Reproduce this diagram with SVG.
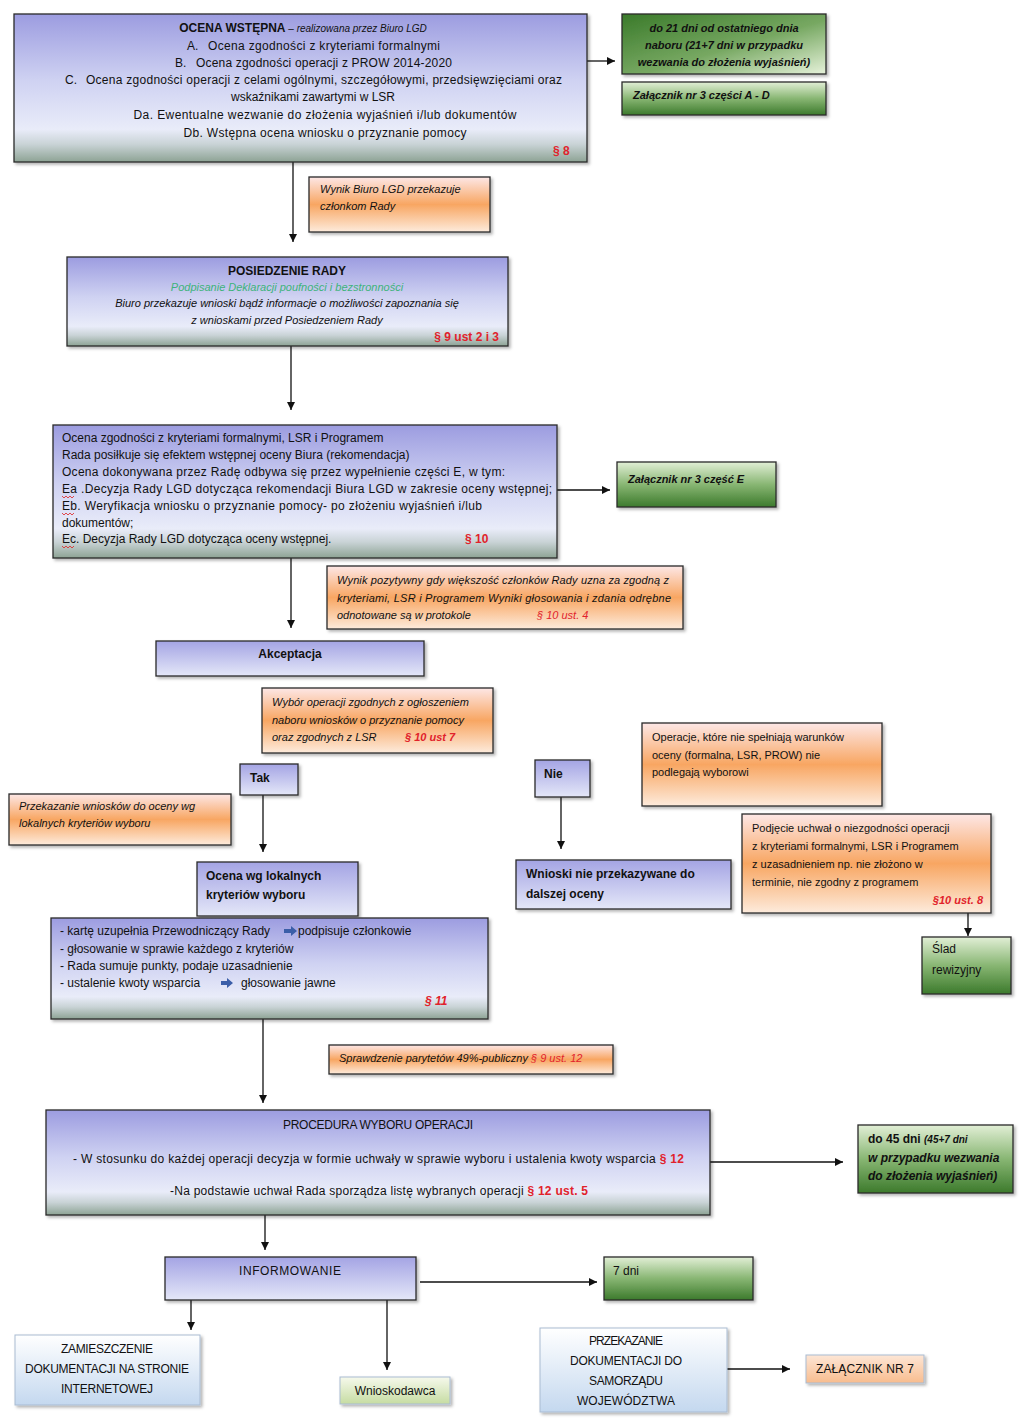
<svg xmlns="http://www.w3.org/2000/svg" width="1024" height="1427" viewBox="0 0 1024 1427">
<defs>
<linearGradient id="gBlue" x1="0" y1="0" x2="0" y2="1">
<stop offset="0" stop-color="#9c9ce0"/>
<stop offset="0.45" stop-color="#cfd2f2"/>
<stop offset="0.78" stop-color="#e9ecf9"/>
<stop offset="0.88" stop-color="#c9d3d6"/>
<stop offset="1" stop-color="#8da394"/>
</linearGradient>
<linearGradient id="gBlueS" x1="0" y1="0" x2="0" y2="1">
<stop offset="0" stop-color="#a4a4e4"/>
<stop offset="1" stop-color="#e4e7f8"/>
</linearGradient>
<linearGradient id="gOrange" x1="0" y1="0" x2="0" y2="1">
<stop offset="0" stop-color="#fde7e6"/>
<stop offset="0.5" stop-color="#f8a662"/>
<stop offset="1" stop-color="#fdebdc"/>
</linearGradient>
<linearGradient id="gGreenD" x1="0" y1="0" x2="1" y2="1">
<stop offset="0" stop-color="#3a7a2a"/>
<stop offset="0.55" stop-color="#77a862"/>
<stop offset="1" stop-color="#e6f2da"/>
</linearGradient>
<linearGradient id="gGreen" x1="0" y1="0" x2="0" y2="1">
<stop offset="0" stop-color="#e2efd6"/>
<stop offset="0.5" stop-color="#88b673"/>
<stop offset="1" stop-color="#3c7a2c"/>
</linearGradient>
<linearGradient id="gLBlue" x1="0" y1="0" x2="0" y2="1">
<stop offset="0" stop-color="#ffffff"/>
<stop offset="1" stop-color="#c4d8ef"/>
</linearGradient>
<linearGradient id="gLGreen" x1="0" y1="0" x2="0" y2="1">
<stop offset="0" stop-color="#f6f9ec"/>
<stop offset="1" stop-color="#c6dca2"/>
</linearGradient>
<linearGradient id="gLOrange" x1="0" y1="0" x2="0" y2="1">
<stop offset="0" stop-color="#fde6d6"/>
<stop offset="1" stop-color="#f8bc8e"/>
</linearGradient>
<filter id="sh" x="-10%" y="-10%" width="130%" height="140%">
<feDropShadow dx="2" dy="2" stdDeviation="1.5" flood-color="#000" flood-opacity="0.3"/>
</filter>
<marker id="arr" markerWidth="8" markerHeight="8" refX="8" refY="4" orient="auto" markerUnits="userSpaceOnUse">
<path d="M0,0 L8,4 L0,8 z" fill="#111"/>
</marker>
</defs>
<style>
.box{stroke:#2a2a2a;stroke-width:1.3;filter:url(#sh)}
.lbox{stroke:#a9bbd2;stroke-width:1;filter:url(#sh)}
.t{font-family:"Liberation Sans",Arial,sans-serif;font-size:12px;fill:#111}
.s{font-size:11px}
.b{font-weight:bold}
.i{font-style:italic}
.r{fill:#e1222b}
.c{text-anchor:middle}
.e{text-anchor:end}
.gr{fill:#3db37a}
.cn{stroke:#111;stroke-width:1.3;fill:none}
.sq{stroke:#e02020;stroke-width:0.8;fill:none}
.ar{fill:#3b5ea8}
</style>
<rect width="1024" height="1427" fill="#ffffff"/>

<g id="connectors">
<line class="cn" x1="587" y1="61" x2="615" y2="61" marker-end="url(#arr)"/>
<line class="cn" x1="293" y1="162" x2="293" y2="242" marker-end="url(#arr)"/>
<line class="cn" x1="291" y1="346" x2="291" y2="410" marker-end="url(#arr)"/>
<line class="cn" x1="557" y1="490" x2="610" y2="490" marker-end="url(#arr)"/>
<line class="cn" x1="291" y1="558" x2="291" y2="628" marker-end="url(#arr)"/>
<line class="cn" x1="263" y1="795" x2="263" y2="852" marker-end="url(#arr)"/>
<line class="cn" x1="561" y1="797" x2="561" y2="849" marker-end="url(#arr)"/>
<line class="cn" x1="968" y1="913" x2="968" y2="936" marker-end="url(#arr)"/>
<line class="cn" x1="263" y1="1019" x2="263" y2="1103" marker-end="url(#arr)"/>
<line class="cn" x1="710" y1="1162" x2="843" y2="1162" marker-end="url(#arr)"/>
<line class="cn" x1="265" y1="1215" x2="265" y2="1250" marker-end="url(#arr)"/>
<line class="cn" x1="420" y1="1282" x2="597" y2="1282" marker-end="url(#arr)"/>
<line class="cn" x1="191" y1="1300" x2="191" y2="1330" marker-end="url(#arr)"/>
<line class="cn" x1="387" y1="1300" x2="387" y2="1370" marker-end="url(#arr)"/>
<line class="cn" x1="727" y1="1369" x2="790" y2="1369" marker-end="url(#arr)"/>
</g>

<g id="ocena-wstepna">
<rect class="box" x="14" y="14" width="573" height="148" fill="url(#gBlue)"/>
<text class="t c" x="303" y="32"><tspan class="b">OCENA WSTĘPNA</tspan><tspan class="i" font-size="10"> – realizowana przez Biuro LGD</tspan></text>
<text class="t" x="187" y="50">A.</text><text class="t" x="208" y="50" textLength="232">Ocena zgodności z kryteriami formalnymi</text>
<text class="t" x="175" y="67">B.</text><text class="t" x="196" y="67" textLength="256">Ocena zgodności operacji z PROW 2014-2020</text>
<text class="t" x="65" y="84">C.</text><text class="t" x="86" y="84" textLength="476">Ocena zgodności operacji z celami ogólnymi, szczegółowymi, przedsięwzięciami oraz</text>
<text class="t c" x="313" y="101">wskaźnikami zawartymi w LSR</text>
<text class="t c" x="325" y="119" textLength="383">Da. Ewentualne wezwanie do złożenia wyjaśnień i/lub dokumentów</text>
<text class="t c" x="325" y="137" textLength="283">Db. Wstępna ocena wniosku o przyznanie pomocy</text>
<text class="t b r" x="553" y="155">§ 8</text>
</g>

<g id="termin-21">
<rect class="box" x="622" y="14" width="204" height="60" fill="url(#gGreenD)"/>
<text class="t s b i c" x="724" y="32">do 21 dni od ostatniego dnia</text>
<text class="t s b i c" x="724" y="49">naboru (21+7 dni w przypadku</text>
<text class="t s b i c" x="724" y="66">wezwania do złożenia wyjaśnień)</text>
</g>

<g id="zalacznik-3-ad">
<rect class="box" x="622" y="82" width="204" height="33" fill="url(#gGreen)"/>
<text class="t s b i" x="633" y="99">Załącznik nr 3 części A - D</text>
</g>

<g id="wynik-biuro">
<rect class="box" x="309" y="177" width="181" height="55" fill="url(#gOrange)"/>
<text class="t s i" x="320" y="193">Wynik Biuro LGD przekazuje</text>
<text class="t s i" x="320" y="210">członkom Rady</text>
</g>

<g id="posiedzenie-rady">
<rect class="box" x="67" y="257" width="441" height="89" fill="url(#gBlue)"/>
<text class="t b c" x="287" y="275">POSIEDZENIE RADY</text>
<text class="t s i c gr" x="287" y="291">Podpisanie Deklaracji poufności i bezstronności</text>
<text class="t s i c" x="287" y="307">Biuro przekazuje wnioski bądź informacje o możliwości zapoznania się</text>
<text class="t s i c" x="287" y="324">z wnioskami przed Posiedzeniem Rady</text>
<text class="t b r e" x="499" y="341">§ 9 ust 2 i 3</text>
</g>

<g id="ocena-rady">
<rect class="box" x="53" y="425" width="504" height="133" fill="url(#gBlue)"/>
<text class="t" x="62" y="442">Ocena zgodności z kryteriami  formalnymi, LSR i Programem</text>
<text class="t" x="62" y="459">Rada posiłkuje się efektem wstępnej oceny Biura (rekomendacja)</text>
<text class="t" x="62" y="476" textLength="443">Ocena dokonywana przez Radę odbywa się przez wypełnienie części  E, w tym:</text>
<text class="t" x="62" y="493" textLength="490">Ea .Decyzja Rady LGD dotycząca rekomendacji Biura LGD w zakresie oceny wstępnej;</text>
<text class="t" x="62" y="510" textLength="420">Eb. Weryfikacja wniosku o przyznanie pomocy- po złożeniu wyjaśnień i/lub</text>
<text class="t" x="62" y="527">dokumentów;</text>
<text class="t" x="62" y="543">Ec. Decyzja Rady LGD dotycząca oceny wstępnej.</text>
<text class="t b r" x="465" y="543">§  10</text>
<path class="sq" d="M62,496 l2,2 l2,-2 l2,2 l2,-2 l2,2 l2,-2"/>
<path class="sq" d="M62,513 l2,2 l2,-2 l2,2 l2,-2 l2,2 l2,-2"/>
<path class="sq" d="M62,546 l2,2 l2,-2 l2,2 l2,-2 l2,2 l2,-2"/>
</g>

<g id="zalacznik-3-e">
<rect class="box" x="617" y="462" width="159" height="45" fill="url(#gGreen)"/>
<text class="t s b i" x="628" y="483">Załącznik nr 3 część E</text>
</g>

<g id="wynik-pozytywny">
<rect class="box" x="327" y="566" width="356" height="63" fill="url(#gOrange)"/>
<text class="t s i" x="337" y="584" textLength="332">Wynik pozytywny gdy większość członków Rady uzna za zgodną z</text>
<text class="t s i" x="337" y="602" textLength="334">kryteriami, LSR i Programem Wyniki głosowania i zdania odrębne</text>
<text class="t s i" x="337" y="619">odnotowane są w protokole</text>
<text class="t s i r" x="537" y="619">§  10 ust. 4</text>
</g>

<g id="akceptacja">
<rect class="box" x="156" y="641" width="268" height="35" fill="url(#gBlueS)"/>
<text class="t b c" x="290" y="658">Akceptacja</text>
</g>

<g id="wybor-operacji">
<rect class="box" x="262" y="688" width="231" height="65" fill="url(#gOrange)"/>
<text class="t s i" x="272" y="706">Wybór operacji zgodnych z ogłoszeniem</text>
<text class="t s i" x="272" y="724">naboru wniosków o przyznanie pomocy</text>
<text class="t s i" x="272" y="741">oraz zgodnych z LSR</text>
<text class="t s b i r" x="405" y="741">§ 10 ust 7</text>
</g>

<g id="tak">
<rect class="box" x="240" y="764" width="58" height="31" fill="url(#gBlueS)"/>
<text class="t b" x="250" y="782">Tak</text>
</g>

<g id="przekazanie-wnioskow">
<rect class="box" x="9" y="794" width="222" height="51" fill="url(#gOrange)"/>
<text class="t s i" x="19" y="810">Przekazanie wniosków do oceny wg</text>
<text class="t s i" x="19" y="827">lokalnych kryteriów wyboru</text>
</g>

<g id="ocena-lokalne">
<rect class="box" x="197" y="862" width="161" height="54" fill="url(#gBlueS)"/>
<text class="t b" x="206" y="880">Ocena wg lokalnych</text>
<text class="t b" x="206" y="899">kryteriów wyboru</text>
</g>

<g id="karta-oceny">
<rect class="box" x="51" y="918" width="437" height="101" fill="url(#gBlue)"/>
<text class="t" x="60" y="935">- kartę uzupełnia Przewodniczący Rady</text>
<path class="ar" d="M284,929 h7 v-3 l6,5 l-6,5 v-3 h-7 z"/>
<text class="t" x="298" y="935">podpisuje członkowie</text>
<text class="t" x="60" y="953">- głosowanie w sprawie każdego z kryteriów</text>
<text class="t" x="60" y="970">- Rada sumuje punkty, podaje uzasadnienie</text>
<text class="t" x="60" y="987">- ustalenie kwoty wsparcia</text>
<path class="ar" d="M221,981 h6 v-3 l6,5 l-6,5 v-3 h-6 z"/>
<text class="t" x="241" y="987">głosowanie jawne</text>
<text class="t b i r" x="425" y="1005">§ 11</text>
</g>

<g id="nie">
<rect class="box" x="535" y="760" width="55" height="37" fill="url(#gBlueS)"/>
<text class="t b" x="544" y="778">Nie</text>
</g>

<g id="wnioski-nie-przekazywane">
<rect class="box" x="516" y="860" width="215" height="49" fill="url(#gBlueS)"/>
<text class="t b" x="526" y="878">Wnioski nie przekazywane do</text>
<text class="t b" x="526" y="898">dalszej oceny</text>
</g>

<g id="operacje-niespelniajace">
<rect class="box" x="642" y="723" width="240" height="83" fill="url(#gOrange)"/>
<text class="t s" x="652" y="741">Operacje,  które nie spełniają warunków</text>
<text class="t s" x="652" y="759">oceny (formalna, LSR, PROW) nie</text>
<text class="t s" x="652" y="776">podlegają wyborowi</text>
</g>

<g id="podjecie-uchwal">
<rect class="box" x="742" y="814" width="249" height="99" fill="url(#gOrange)"/>
<text class="t s" x="752" y="832">Podjęcie uchwał o niezgodności operacji</text>
<text class="t s" x="752" y="850">z kryteriami formalnymi, LSR i Programem</text>
<text class="t s" x="752" y="868">z uzasadnieniem np. nie złożono  w</text>
<text class="t s" x="752" y="886">terminie, nie zgodny z programem</text>
<text class="t s b i r e" x="983" y="904">§10 ust. 8</text>
</g>

<g id="slad-rewizyjny">
<rect class="box" x="922" y="937" width="89" height="57" fill="url(#gGreen)"/>
<text class="t" x="932" y="953">Ślad</text>
<text class="t" x="932" y="974">rewizyjny</text>
</g>

<g id="sprawdzenie-parytetow">
<rect class="box" x="329" y="1045" width="284" height="29" fill="url(#gOrange)"/>
<text class="t s i" x="339" y="1062">Sprawdzenie parytetów 49%-publiczny <tspan class="r">§  9 ust. 12</tspan></text>
</g>

<g id="procedura-wyboru">
<rect class="box" x="46" y="1110" width="664" height="105" fill="url(#gBlue)"/>
<text class="t c" x="378" y="1129" textLength="190">PROCEDURA WYBORU OPERACJI</text>
<text class="t" x="73" y="1163" textLength="611">- W stosunku do każdej operacji decyzja w formie uchwały w sprawie wyboru i ustalenia kwoty wsparcia <tspan class="r b">§ 12</tspan></text>
<text class="t" x="170" y="1195" textLength="418">-Na podstawie uchwał Rada sporządza listę wybranych operacji <tspan class="r b">§ 12 ust. 5</tspan></text>
</g>

<g id="termin-45">
<rect class="box" x="858" y="1125" width="155" height="68" fill="url(#gGreen)"/>
<text class="t b" x="868" y="1143">do 45 dni <tspan class="i" font-size="10">(45+7 dni</tspan></text>
<text class="t b i" font-size="10" x="868" y="1162">w przypadku wezwania</text>
<text class="t b i" font-size="10" x="868" y="1180">do złożenia wyjaśnień)</text>
</g>

<g id="informowanie">
<rect class="box" x="165" y="1257" width="251" height="43" fill="url(#gBlueS)"/>
<text class="t c" x="290" y="1275" textLength="102">INFORMOWANIE</text>
</g>

<g id="termin-7">
<rect class="box" x="604" y="1257" width="149" height="43" fill="url(#gGreen)"/>
<text class="t" x="613" y="1275">7 dni</text>
</g>

<g id="zamieszczenie">
<rect class="lbox" x="15" y="1335" width="185" height="70" fill="url(#gLBlue)"/>
<text class="t c" x="107" y="1353" textLength="92">ZAMIESZCZENIE</text>
<text class="t c" x="107" y="1373" textLength="164">DOKUMENTACJI NA STRONIE</text>
<text class="t c" x="107" y="1393" textLength="92">INTERNETOWEJ</text>
</g>

<g id="wnioskodawca">
<rect class="lbox" x="340" y="1377" width="110" height="27" fill="url(#gLGreen)"/>
<text class="t c" x="395" y="1395">Wnioskodawca</text>
</g>

<g id="przekazanie-dokumentacji">
<rect class="lbox" x="540" y="1328" width="187" height="84" fill="url(#gLBlue)"/>
<text class="t c" x="626" y="1345" textLength="74">PRZEKAZANIE</text>
<text class="t c" x="626" y="1365" textLength="112">DOKUMENTACJI DO</text>
<text class="t c" x="626" y="1385" textLength="74">SAMORZĄDU</text>
<text class="t c" x="626" y="1405" textLength="98">WOJEWÓDZTWA</text>
</g>

<g id="zalacznik-7">
<rect class="lbox" x="806" y="1355" width="118" height="28" fill="url(#gLOrange)"/>
<text class="t c" x="865" y="1373" textLength="98">ZAŁĄCZNIK NR 7</text>
</g>
</svg>
